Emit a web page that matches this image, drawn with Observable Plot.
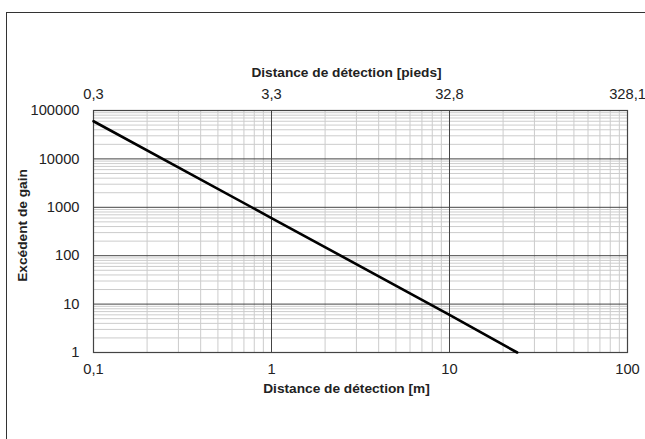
<!DOCTYPE html>
<html>
<head>
<meta charset="utf-8">
<script src="https://cdn.jsdelivr.net/npm/d3@7"></script>
<script src="https://cdn.jsdelivr.net/npm/@observablehq/plot@0.6"></script>
<style>
  html, body { margin: 0; padding: 0; background: #fff; overflow: hidden; }
  #wrap { position: relative; width: 645px; height: 439px; overflow: hidden; }
  #frame { position: absolute; left: 6px; top: 12px; width: 800px; height: 600px; border-left: 1.5px solid #333; border-top: 1.5px solid #333; box-sizing: border-box; }
  #chart { position: absolute; left: 0; top: 0; }
</style>
</head>
<body>
<div id="wrap"><div id="frame"></div><div id="chart"></div></div>
<script>
// Data
const distanceM = [0.1, 1, 10, 24];
const gainExcess = [60000, 600, 6, 1];

// Tick values and labels
const xTicks = [0.1, 1, 10, 100];
const xLabelsM = ["0,1", "1", "10", "100"];
const xLabelsFt = ["0,3", "3,3", "32,8", "328,1"];
const yTicks = [1, 10, 100, 1000, 10000, 100000];
const yLabels = ["1", "10", "100", "1000", "10000", "100000"];
const xTitle = "Distance de détection [m]";
const xTopTitle = "Distance de détection [pieds]";
const yTitle = "Excédent de gain";

const minorX = [];
for (let k = -1; k < 2; k++) for (let m = 2; m <= 9; m++) minorX.push(m * Math.pow(10, k));
const minorY = [];
for (let k = 0; k < 5; k++) for (let m = 2; m <= 9; m++) minorY.push(m * Math.pow(10, k));

const line = distanceM.map((d, i) => ({x: d, y: gainExcess[i]}));
const font = "'Liberation Sans', Arial, Helvetica, sans-serif";

const chart = Plot.plot({
  width: 645,
  height: 439,
  marginLeft: 93,
  marginRight: 18,
  marginTop: 110,
  marginBottom: 87,
  style: {fontFamily: font, fontSize: "14.7px", color: "#222", background: "transparent"},
  x: {type: "log", domain: [0.1, 100]},
  y: {type: "log", domain: [1, 100000]},
  marks: [
    Plot.ruleX(minorX, {stroke: "#cccccc", strokeWidth: 1}),
    Plot.ruleY(minorY, {stroke: "#cccccc", strokeWidth: 1}),
    Plot.ruleX(xTicks, {stroke: "#444", strokeWidth: 1}),
    Plot.ruleY(yTicks, {stroke: "#444", strokeWidth: 1}),
    Plot.frame({stroke: "#444", strokeWidth: 1.2}),
    Plot.axisX({anchor: "bottom", ticks: xTicks, tickSize: 0, tickPadding: 11,
      tickFormat: (d) => xLabelsM[xTicks.indexOf(d)], label: null, fontSize: 14.7}),
    Plot.axisX({anchor: "top", ticks: xTicks, tickSize: 0, tickPadding: 12,
      tickFormat: (d) => xLabelsFt[xTicks.indexOf(d)], label: null, fontSize: 14.7}),
    Plot.axisY({anchor: "left", ticks: yTicks, tickSize: 0, tickPadding: 14,
      tickFormat: (d) => yLabels[yTicks.indexOf(d)], label: null, fontSize: 14.7}),
    Plot.text([xTitle], {frameAnchor: "bottom", dy: 40, dx: -14, fontWeight: "bold", fontSize: 13.7, fill: "#222"}),
    Plot.text([xTopTitle], {frameAnchor: "top", dy: -43, dx: -14, fontWeight: "bold", fontSize: 13.7, fill: "#222"}),
    Plot.text([yTitle], {frameAnchor: "left", textAnchor: "middle", dx: -71, dy: -6, rotate: -90, fontWeight: "bold", fontSize: 13.7, fill: "#222"}),
    Plot.line(line, {x: "x", y: "y", stroke: "#000", strokeWidth: 2.6})
  ]
});
document.getElementById("chart").appendChild(chart);
</script>
</body>
</html>
